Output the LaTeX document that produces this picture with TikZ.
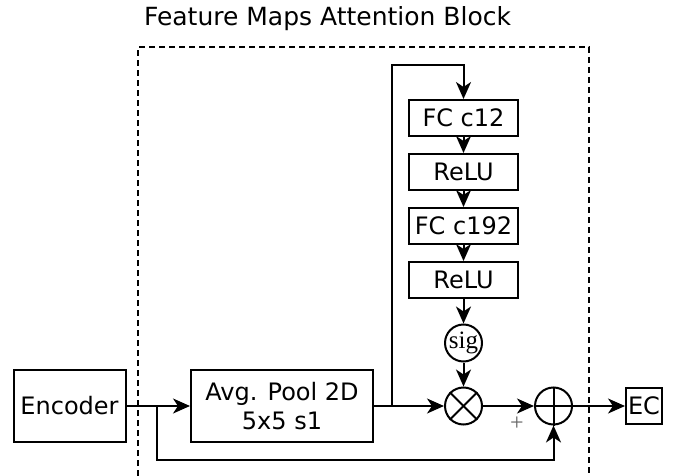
\documentclass[tikz,border=0pt]{standalone}
\usepackage{fontspec}
\setmainfont{DejaVu Sans}
\newfontfamily\serifface{Liberation Serif}
\usetikzlibrary{arrows.meta}
\begin{document}
\begin{tikzpicture}[x=1pt,y=-1pt,line width=2pt,
  box/.style={draw,inner sep=0pt,align=center,font=\fontsize{24}{29}\selectfont},
  op/.style={draw,circle,inner sep=0pt,minimum size=37pt},
  arr/.style={-{Stealth[length=17pt,width=15pt,inset=5pt]}},
  txt/.style={inner sep=0pt,font=\fontsize{25}{30}\selectfont}]
\useasboundingbox (0,0) rectangle (677,476);
% title and dashed block
\node[txt,anchor=base west] (title) at (143,26) {Feature Maps Attention Block};
\draw[dash pattern=on 6pt off 4pt] (138,476) -- (138,47) -- (589,47) -- (589,476);
% nodes
\node[box,minimum width=112pt,minimum height=72pt] (enc) at (69.5,406) {Encoder};
\node[box,minimum width=182pt,minimum height=72pt] (pool) at (282,406) {Avg. Pool 2D\\5x5 s1};
\node[box,minimum width=109pt,minimum height=36pt] (fc1) at (463.5,118) {FC c12};
\node[box,minimum width=109pt,minimum height=36pt] (r1) at (463.5,172) {ReLU};
\node[box,minimum width=109pt,minimum height=36pt] (fc2) at (463.5,226) {FC c192};
\node[box,minimum width=109pt,minimum height=36pt] (r2) at (463.5,280) {ReLU};
\node[op,font=\serifface\fontsize{25}{25}\selectfont] (sig) at (463.5,343) {sig};
\node[op] (mul) at (463.5,406) {};
\node[op] (add) at (553.5,406) {};
\node[box,minimum width=36pt,minimum height=36pt] (ec) at (644,406) {EC};
\node[inner sep=0pt,text=black!60,font=\serifface\fontsize{24}{24}\selectfont] (plus) at (517,424) {+};
% operator symbols
\draw (mul.north west) -- (mul.south east);
\draw (mul.north east) -- (mul.south west);
\draw (add.north) -- (add.south);
\draw (add.west) -- (add.east);
% connectors
\coordinate (b1) at (157,406);
\coordinate (c1) at (157,460);
\coordinate (b2) at (392,406);
\coordinate (c2) at (392,65);
\draw[arr] (enc.east) -- (pool.west);
\draw[arr] (b1) -- (c1) -| (add.south);
\draw[arr] (pool.east) -- (mul.west);
\draw[arr] (b2) -- (c2) -| (fc1.north);
\draw[arr] (fc1) -- (r1);
\draw[arr] (r1) -- (fc2);
\draw[arr] (fc2) -- (r2);
\draw[arr] (r2) -- (sig);
\draw[arr] (sig) -- (mul);
\draw[arr] (mul) -- (add);
\draw[arr] (add) -- (ec);
\end{tikzpicture}
\end{document}
